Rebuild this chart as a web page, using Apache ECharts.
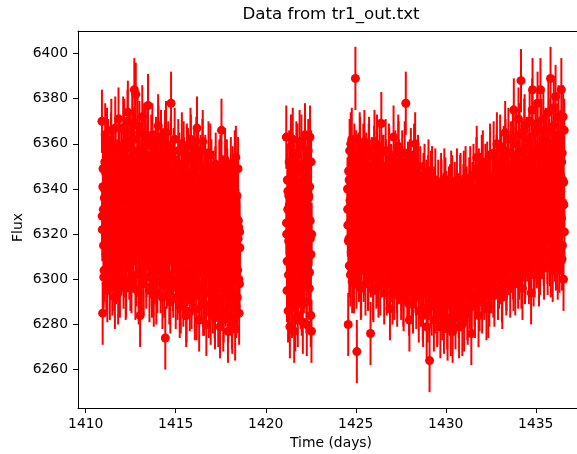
<!DOCTYPE html>
<html>
<head>
<meta charset="utf-8">
<title>Data from tr1_out.txt</title>
<script src="https://cdn.jsdelivr.net/npm/echarts@6/dist/echarts.min.js"></script>
<style>
html, body { margin: 0; padding: 0; background: #fff; overflow: hidden; }
#chart { width: 577px; height: 454px; }
</style>
</head>
<body>
<div id="chart"></div>
<script>
// light curve (time in days, flux), three observing stretches,
// each one kept as three interleaved sets of cadences (a, b, c)

var time1a = [
1410.90,1410.94,1410.98,1411.02,1411.06,1411.10,1411.14,1411.18,1411.22,1411.26,1411.30,1411.34,1411.38,1411.42,1411.46,1411.50,1411.54,1411.58,1411.62,1411.66,1411.70,1411.74,1411.78,1411.82,1411.86,1411.90,1411.94,1411.98,
1412.02,1412.06,1412.10,1412.14,1412.18,1412.22,1412.26,1412.30,1412.34,1412.38,1412.42,1412.46,1412.50,1412.54,1412.58,1412.62,1412.66,1412.70,1412.74,1412.78,1412.82,1412.86,1412.90,1412.94,1412.98,1413.02,1413.06,1413.10,1413.14,1413.18,1413.22,1413.26,1413.30,1413.34,1413.38,1413.42,1413.46,
1413.50,1413.54,1413.58,1413.62,1413.66,1413.70,1413.74,1413.78,1413.82,1413.86,1413.90,1413.94,1413.98,1414.02,1414.06,1414.10,1414.14,1414.18,1414.22,1414.26,1414.30,1414.34,1414.38,1414.42,1414.46,1414.50,1414.54,1414.58,1414.62,1414.66,1414.70,1414.74,1414.78,1414.82,1414.86,1414.90,1414.94,1414.98,1415.02,
1415.06,1415.10,1415.14,1415.18,1415.22,1415.26,1415.30,1415.34,1415.38,1415.42,1415.46,1415.50,1415.54,1415.58,1415.62,1415.66,1415.70,1415.74,1415.78,1415.82,1415.86,1415.90,1415.94,1415.98,1416.02,1416.06,1416.10,1416.14,1416.18,1416.22,1416.26,1416.30,1416.34,1416.38,1416.42,1416.46,1416.50,1416.54,1416.58,1416.62,1416.66,1416.70,1416.74,1416.78,1416.82,1416.86,1416.90,1416.94,1416.98,
1417.02,1417.06,1417.10,1417.14,1417.18,1417.22,1417.26,1417.30,1417.34,1417.38,1417.42,1417.46,1417.50,1417.54,1417.58,1417.62,1417.66,1417.70,1417.74,1417.78,1417.82,1417.86,1417.90,1417.94,1417.98,1418.02,1418.06,1418.10,1418.14,1418.18,1418.22,1418.26,1418.30,1418.34,1418.38,1418.42,1418.46,1418.50,1418.54
];
var flux1a = [
6370,6285,6331,6304,6352,6318,6298,6362,6326,6309,6345,6296,6337,6366,6314,6300,6350,6322,6292,6358,6335,6306,6344,6371,6316,6297,6329,6355,
6310,6348,6301,6366,6327,6296,6354,6319,6374,6340,6305,6361,6331,6299,6369,6315,6346,6384,6323,6382,6302,6357,6336,6294,6365,6284,6343,6312,6372,6329,6298,6352,6320,6362,6306,6339,6377,
6316,6295,6350,6331,6302,6364,6322,6293,6345,6311,6358,6334,6299,6368,6318,6340,6306,6361,6327,6292,6353,6313,6336,6274,6365,6301,6325,6356,6309,6343,6290,6378,6320,6348,6297,6333,6362,6314,6304,
6341,6296,6357,6318,6288,6336,6308,6360,6326,6293,6349,6314,6332,6284,6355,6302,6340,6321,6291,6362,6311,6345,6298,6329,6352,6287,6317,6358,6367,6305,6337,6282,6324,6350,6295,6313,6361,6333,6289,6346,6309,6280,6339,6320,6356,6301,6328,6285,6348,
6312,6290,6343,6322,6283,6351,6305,6334,6296,6317,6348,6279,6328,6366,6300,6339,6286,6314,6353,6293,6325,6344,6277,6308,6336,6289,6349,6319,6281,6341,6303,6330,6278,6354,6311,6292,6349,6323,6298
];
var time1b = [
1410.92,1410.96,1411.00,1411.04,1411.08,1411.12,1411.16,1411.20,1411.24,1411.28,1411.32,1411.36,1411.40,1411.44,1411.48,1411.52,1411.56,1411.60,1411.64,1411.68,1411.72,1411.76,1411.80,1411.84,1411.88,1411.92,1411.96,1412.00,
1412.04,1412.08,1412.12,1412.16,1412.20,1412.24,1412.28,1412.32,1412.36,1412.40,1412.44,1412.48,1412.52,1412.56,1412.60,1412.64,1412.68,1412.72,1412.76,1412.80,1412.84,1412.88,1412.92,1412.96,1413.00,1413.04,1413.08,1413.12,1413.16,1413.20,1413.24,1413.28,1413.32,1413.36,1413.40,1413.44,1413.48,
1413.52,1413.56,1413.60,1413.64,1413.68,1413.72,1413.76,1413.80,1413.84,1413.88,1413.92,1413.96,1414.00,1414.04,1414.08,1414.12,1414.16,1414.20,1414.24,1414.28,1414.32,1414.36,1414.40,1414.44,1414.48,1414.52,1414.56,1414.60,1414.64,1414.68,1414.72,1414.76,1414.80,1414.84,1414.88,1414.92,1414.96,1415.00,1415.04,
1415.08,1415.12,1415.16,1415.20,1415.24,1415.28,1415.32,1415.36,1415.40,1415.44,1415.48,1415.52,1415.56,1415.60,1415.64,1415.68,1415.72,1415.76,1415.80,1415.84,1415.88,1415.92,1415.96,1416.00,1416.04,1416.08,1416.12,1416.16,1416.20,1416.24,1416.28,1416.32,1416.36,1416.40,1416.44,1416.48,1416.52,1416.56,1416.60,1416.64,1416.68,1416.72,1416.76,1416.80,1416.84,1416.88,1416.92,1416.96,1417.00,
1417.04,1417.08,1417.12,1417.16,1417.20,1417.24,1417.28,1417.32,1417.36,1417.40,1417.44,1417.48,1417.52,1417.56,1417.60,1417.64,1417.68,1417.72,1417.76,1417.80,1417.84,1417.88,1417.92,1417.96,1418.00,1418.04,1418.08,1418.12,1418.16,1418.20,1418.24,1418.28,1418.32,1418.36,1418.40,1418.44,1418.48,1418.52,1418.56
];
var flux1b = [
6322,6349,6301,6340,6364,6311,6333,6295,6357,6319,6342,6305,6360,6327,6298,6352,6313,6338,6367,6303,6324,6347,6294,6336,6359,6308,6341,6315,
6338,6367,6306,6325,6351,6297,6344,6370,6314,6330,6358,6300,6321,6349,6335,6308,6362,6326,6296,6343,6317,6368,6333,6303,6347,6322,6356,6299,6338,6311,6364,6327,6345,6301,6318,6355,6332,
6341,6307,6326,6359,6297,6338,6315,6352,6303,6330,6294,6347,6320,6363,6308,6335,6299,6355,6316,6343,6328,6297,6361,6310,6339,6302,6349,6321,6294,6337,6358,6312,6330,6300,6353,6317,6344,6292,6334,
6312,6334,6299,6351,6323,6290,6343,6307,6330,6356,6296,6318,6347,6286,6328,6353,6304,6335,6313,6359,6292,6326,6341,6300,6320,6349,6309,6287,6337,6354,6316,6297,6345,6325,6303,6357,6289,6331,6314,6350,6294,6323,6342,6306,6288,6334,6355,6312,6298,
6331,6302,6321,6288,6345,6313,6297,6337,6284,6326,6308,6350,6292,6319,6341,6282,6333,6305,6323,6296,6348,6312,6286,6339,6318,6300,6327,6283,6345,6310,6294,6352,6320,6288,6337,6304,6326,6285,6314
];
var time1c = [
1410.91,1410.95,1410.99,1411.03,1411.07,1411.11,1411.15,1411.19,1411.23,1411.27,1411.31,1411.35,1411.39,1411.43,1411.47,1411.51,1411.55,1411.59,1411.63,1411.67,1411.71,1411.75,1411.79,1411.83,1411.87,1411.91,1411.95,1411.99,
1412.03,1412.07,1412.11,1412.15,1412.19,1412.23,1412.27,1412.31,1412.35,1412.39,1412.43,1412.47,1412.51,1412.55,1412.59,1412.63,1412.67,1412.71,1412.75,1412.79,1412.83,1412.87,1412.91,1412.95,1412.99,1413.03,1413.07,1413.11,1413.15,1413.19,1413.23,1413.27,1413.31,1413.35,1413.39,1413.43,1413.47,
1413.51,1413.55,1413.59,1413.63,1413.67,1413.71,1413.75,1413.79,1413.83,1413.87,1413.91,1413.95,1413.99,1414.03,1414.07,1414.11,1414.15,1414.19,1414.23,1414.27,1414.31,1414.35,1414.39,1414.43,1414.47,1414.51,1414.55,1414.59,1414.63,1414.67,1414.71,1414.75,1414.79,1414.83,1414.87,1414.91,1414.95,1414.99,1415.03,
1415.07,1415.11,1415.15,1415.19,1415.23,1415.27,1415.31,1415.35,1415.39,1415.43,1415.47,1415.51,1415.55,1415.59,1415.63,1415.67,1415.71,1415.75,1415.79,1415.83,1415.87,1415.91,1415.95,1415.99,1416.03,1416.07,1416.11,1416.15,1416.19,1416.23,1416.27,1416.31,1416.35,1416.39,1416.43,1416.47,1416.51,1416.55,1416.59,1416.63,1416.67,1416.71,1416.75,1416.79,1416.83,1416.87,1416.91,1416.95,1416.99,
1417.03,1417.07,1417.11,1417.15,1417.19,1417.23,1417.27,1417.31,1417.35,1417.39,1417.43,1417.47,1417.51,1417.55,1417.59,1417.63,1417.67,1417.71,1417.75,1417.79,1417.83,1417.87,1417.91,1417.95,1417.99,1418.03,1418.07,1418.11,1418.15,1418.19,1418.23,1418.27,1418.31,1418.35,1418.39,1418.43,1418.47,1418.51,1418.55
];
var flux1c = [
6328,6341,6315,6336,6322,6347,6311,6333,6319,6344,6326,6309,6338,6350,6317,6331,6324,6345,6313,6335,6321,6348,6316,6339,6327,6312,6343,6330,
6337,6318,6349,6326,6342,6314,6334,6351,6321,6340,6313,6345,6329,6353,6317,6336,6324,6347,6331,6315,6343,6327,6350,6320,6338,6312,6344,6330,6352,6323,6341,6316,6335,6348,6325,6339,6319,
6324,6339,6312,6345,6330,6317,6348,6322,6336,6309,6341,6327,6315,6346,6333,6319,6338,6310,6343,6326,6349,6314,6332,6321,6344,6311,6337,6328,6316,6347,6323,6335,6308,6340,6329,6318,6342,6325,6334,
6318,6334,6305,6340,6321,6311,6337,6326,6302,6343,6315,6329,6308,6338,6323,6313,6341,6319,6304,6332,6325,6310,6344,6316,6330,6307,6336,6320,6312,6339,6327,6303,6333,6317,6342,6314,6328,6306,6335,6322,6309,6340,6318,6331,6304,6326,6337,6313,6329,
6314,6329,6302,6335,6320,6308,6338,6317,6297,6331,6311,6325,6300,6336,6319,6306,6333,6315,6298,6327,6322,6304,6337,6312,6328,6299,6334,6316,6309,6330,6301,6323,6313,6336,6305,6326,6318,6300,6321
];

var time2a = [
1421.14,1421.18,1421.22,1421.26,1421.30,1421.34,1421.38,1421.42,1421.46,1421.50,1421.54,1421.58,1421.62,1421.66,1421.70,1421.74,1421.78,1421.82,
1421.86,1421.90,1421.94,1421.98,1422.02,1422.06,1422.10,1422.14,1422.18,1422.22,1422.26,1422.30,1422.34,1422.38,1422.42,1422.46,1422.50,1422.54
];
var flux2a = [
6363,6295,6331,6302,6352,6279,6318,6345,6288,6362,6310,6277,6338,6297,6356,6323,6284,6348,
6306,6330,6292,6359,6315,6281,6342,6301,6364,6326,6290,6350,6312,6336,6296,6363,6284,6277
];
var time2b = [
1421.16,1421.20,1421.24,1421.28,1421.32,1421.36,1421.40,1421.44,1421.48,1421.52,1421.56,1421.60,1421.64,1421.68,1421.72,1421.76,1421.80,1421.84,
1421.88,1421.92,1421.96,1422.00,1422.04,1422.08,1422.12,1422.16,1422.20,1422.24,1422.28,1422.32,1422.36,1422.40,1422.44,1422.48,1422.52
];
var flux2b = [
6320,6344,6286,6337,6308,6326,6359,6293,6331,6300,6347,6317,6282,6340,6312,6355,6296,6327,
6361,6305,6336,6289,6322,6351,6299,6333,6313,6345,6280,6325,6357,6303,6341,6318,6352
];
var time2c = [
1421.15,1421.19,1421.23,1421.27,1421.31,1421.35,1421.39,1421.43,1421.47,1421.51,1421.55,1421.59,1421.63,1421.67,1421.71,1421.75,1421.79,1421.83,
1421.87,1421.91,1421.95,1421.99,1422.03,1422.07,1422.11,1422.15,1422.19,1422.23,1422.27,1422.31,1422.35,1422.39,1422.43,1422.47,1422.51,1422.55
];
var flux2c = [
6325,6308,6339,6317,6333,6301,6344,6320,6312,6336,6304,6329,6341,6315,6298,6332,6323,6343,
6310,6327,6305,6338,6318,6300,6334,6314,6342,6322,6307,6331,6319,6337,6303,6326,6311,6320
];

var time3a = [
1424.54,1424.58,1424.62,1424.66,1424.70,1424.74,1424.78,1424.82,1424.86,1424.90,1424.94,1424.98,1425.02,1425.06,1425.10,1425.14,1425.18,1425.22,1425.26,1425.30,1425.34,1425.38,1425.42,1425.46,1425.50,
1425.54,1425.58,1425.62,1425.66,1425.70,1425.74,1425.78,1425.82,1425.86,1425.90,1425.94,1425.98,1426.02,1426.06,1426.10,1426.14,1426.18,1426.22,1426.26,1426.30,1426.34,1426.38,1426.42,1426.46,1426.50,
1426.54,1426.58,1426.62,1426.66,1426.70,1426.74,1426.78,1426.82,1426.86,1426.90,1426.94,1426.98,1427.02,1427.06,1427.10,1427.14,1427.18,1427.22,1427.26,1427.30,1427.34,1427.38,1427.42,1427.46,1427.50,
1427.54,1427.58,1427.62,1427.66,1427.70,1427.74,1427.78,1427.82,1427.86,1427.90,1427.94,1427.98,1428.02,1428.06,1428.10,1428.14,1428.18,1428.22,1428.26,1428.30,1428.34,1428.38,1428.42,1428.46,1428.50,
1428.54,1428.58,1428.62,1428.66,1428.70,1428.74,1428.78,1428.82,1428.86,1428.90,1428.94,1428.98,1429.02,1429.06,1429.10,1429.14,1429.18,1429.22,1429.26,1429.30,1429.34,1429.38,1429.42,1429.46,1429.50,
1429.54,1429.58,1429.62,1429.66,1429.70,1429.74,1429.78,1429.82,1429.86,1429.90,1429.94,1429.98,1430.02,1430.06,1430.10,1430.14,1430.18,1430.22,1430.26,1430.30,1430.34,1430.38,1430.42,1430.46,1430.50,
1430.54,1430.58,1430.62,1430.66,1430.70,1430.74,1430.78,1430.82,1430.86,1430.90,1430.94,1430.98,1431.02,1431.06,1431.10,1431.14,1431.18,1431.22,1431.26,1431.30,1431.34,1431.38,1431.42,1431.46,1431.50,
1431.54,1431.58,1431.62,1431.66,1431.70,1431.74,1431.78,1431.82,1431.86,1431.90,1431.94,1431.98,1432.02,1432.06,1432.10,1432.14,1432.18,1432.22,1432.26,1432.30,1432.34,1432.38,1432.42,1432.46,1432.50,
1432.54,1432.58,1432.62,1432.66,1432.70,1432.74,1432.78,1432.82,1432.86,1432.90,1432.94,1432.98,1433.02,1433.06,1433.10,1433.14,1433.18,1433.22,1433.26,1433.30,1433.34,1433.38,1433.42,1433.46,1433.50,
1433.54,1433.58,1433.62,1433.66,1433.70,1433.74,1433.78,1433.82,1433.86,1433.90,1433.94,1433.98,1434.02,1434.06,1434.10,1434.14,1434.18,1434.22,1434.26,1434.30,1434.34,1434.38,1434.42,1434.46,1434.50,
1434.54,1434.58,1434.62,1434.66,1434.70,1434.74,1434.78,1434.82,1434.86,1434.90,1434.94,1434.98,1435.02,1435.06,1435.10,1435.14,1435.18,1435.22,1435.26,1435.30,1435.34,1435.38,1435.42,1435.46,1435.50,
1435.54,1435.58,1435.62,1435.66,1435.70,1435.74,1435.78,1435.82,1435.86,1435.90,1435.94,1435.98,1436.02,1436.06,1436.10,1436.14,1436.18,1436.22,1436.26,1436.30,1436.34,1436.38,1436.42,1436.46,1436.50,1436.54,1436.58
];
var flux3a = [
6340,6280,6318,6357,6302,6333,6362,6311,6346,6299,6326,6389,6352,6268,6315,6341,6304,6360,6329,6297,6348,6320,6355,6307,6337,
6298,6351,6316,6339,6303,6358,6325,6276,6344,6309,6332,6295,6354,6319,6341,6301,6359,6328,6297,6347,6313,6336,6369,6306,6323,
6350,6294,6331,6357,6310,6340,6299,6322,6353,6287,6317,6345,6304,6334,6363,6296,6326,6349,6312,6293,6338,6356,6307,6320,6344,
6300,6352,6316,6291,6337,6309,6378,6325,6295,6347,6313,6282,6339,6353,6304,6327,6290,6344,6318,6360,6298,6332,6308,6350,6286,
6323,6345,6293,6311,6338,6284,6320,6346,6302,6330,6279,6315,6341,6296,6264,6326,6343,6289,6308,6335,6282,6318,6344,6299,6327,
6285,6339,6306,6322,6279,6342,6298,6316,6333,6281,6311,6340,6292,6325,6278,6304,6336,6289,6318,6343,6295,6277,6329,6309,6338,
6283,6320,6344,6300,6331,6279,6313,6342,6291,6324,6305,6337,6282,6316,6345,6296,6328,6285,6308,6340,6292,6320,6276,6334,6302,
6346,6311,6288,6327,6349,6298,6336,6284,6319,6342,6304,6330,6290,6352,6315,6296,6339,6322,6287,6347,6308,6333,6293,6355,6317,
6299,6341,6320,6356,6293,6331,6309,6350,6326,6296,6345,6314,6359,6303,6336,6292,6323,6354,6311,6365,6340,6300,6328,6349,6307,
6338,6297,6356,6319,6343,6305,6375,6327,6298,6360,6314,6346,6301,6333,6364,6310,6388,6340,6296,6352,6322,6368,6306,6337,6358,
6316,6349,6303,6370,6331,6294,6357,6384,6320,6343,6306,6365,6335,6310,6378,6347,6302,6326,6384,6355,6314,6340,6371,6305,6329,
6362,6318,6345,6307,6374,6334,6311,6389,6352,6322,6304,6368,6340,6313,6381,6327,6349,6305,6372,6336,6316,6358,6384,6309,6344,6300,6366
];
var time3b = [
1424.56,1424.60,1424.64,1424.68,1424.72,1424.76,1424.80,1424.84,1424.88,1424.92,1424.96,1425.00,1425.04,1425.08,1425.12,1425.16,1425.20,1425.24,1425.28,1425.32,1425.36,1425.40,1425.44,1425.48,1425.52,
1425.56,1425.60,1425.64,1425.68,1425.72,1425.76,1425.80,1425.84,1425.88,1425.92,1425.96,1426.00,1426.04,1426.08,1426.12,1426.16,1426.20,1426.24,1426.28,1426.32,1426.36,1426.40,1426.44,1426.48,1426.52,
1426.56,1426.60,1426.64,1426.68,1426.72,1426.76,1426.80,1426.84,1426.88,1426.92,1426.96,1427.00,1427.04,1427.08,1427.12,1427.16,1427.20,1427.24,1427.28,1427.32,1427.36,1427.40,1427.44,1427.48,1427.52,
1427.56,1427.60,1427.64,1427.68,1427.72,1427.76,1427.80,1427.84,1427.88,1427.92,1427.96,1428.00,1428.04,1428.08,1428.12,1428.16,1428.20,1428.24,1428.28,1428.32,1428.36,1428.40,1428.44,1428.48,1428.52,
1428.56,1428.60,1428.64,1428.68,1428.72,1428.76,1428.80,1428.84,1428.88,1428.92,1428.96,1429.00,1429.04,1429.08,1429.12,1429.16,1429.20,1429.24,1429.28,1429.32,1429.36,1429.40,1429.44,1429.48,1429.52,
1429.56,1429.60,1429.64,1429.68,1429.72,1429.76,1429.80,1429.84,1429.88,1429.92,1429.96,1430.00,1430.04,1430.08,1430.12,1430.16,1430.20,1430.24,1430.28,1430.32,1430.36,1430.40,1430.44,1430.48,1430.52,
1430.56,1430.60,1430.64,1430.68,1430.72,1430.76,1430.80,1430.84,1430.88,1430.92,1430.96,1431.00,1431.04,1431.08,1431.12,1431.16,1431.20,1431.24,1431.28,1431.32,1431.36,1431.40,1431.44,1431.48,1431.52,
1431.56,1431.60,1431.64,1431.68,1431.72,1431.76,1431.80,1431.84,1431.88,1431.92,1431.96,1432.00,1432.04,1432.08,1432.12,1432.16,1432.20,1432.24,1432.28,1432.32,1432.36,1432.40,1432.44,1432.48,1432.52,
1432.56,1432.60,1432.64,1432.68,1432.72,1432.76,1432.80,1432.84,1432.88,1432.92,1432.96,1433.00,1433.04,1433.08,1433.12,1433.16,1433.20,1433.24,1433.28,1433.32,1433.36,1433.40,1433.44,1433.48,1433.52,
1433.56,1433.60,1433.64,1433.68,1433.72,1433.76,1433.80,1433.84,1433.88,1433.92,1433.96,1434.00,1434.04,1434.08,1434.12,1434.16,1434.20,1434.24,1434.28,1434.32,1434.36,1434.40,1434.44,1434.48,1434.52,
1434.56,1434.60,1434.64,1434.68,1434.72,1434.76,1434.80,1434.84,1434.88,1434.92,1434.96,1435.00,1435.04,1435.08,1435.12,1435.16,1435.20,1435.24,1435.28,1435.32,1435.36,1435.40,1435.44,1435.48,1435.52,
1435.56,1435.60,1435.64,1435.68,1435.72,1435.76,1435.80,1435.84,1435.88,1435.92,1435.96,1436.00,1436.04,1436.08,1436.12,1436.16,1436.20,1436.24,1436.28,1436.32,1436.36,1436.40,1436.44,1436.48,1436.52,1436.56
];
var flux3b = [
6324,6348,6306,6335,6360,6315,6299,6343,6327,6355,6310,6338,6301,6321,6350,6332,6312,6358,6296,6340,6318,6346,6304,6361,6326,
6314,6343,6330,6300,6355,6322,6337,6306,6349,6318,6296,6340,6361,6310,6328,6352,6302,6334,6319,6357,6298,6345,6326,6308,6350,
6333,6305,6318,6348,6298,6339,6324,6355,6301,6329,6346,6313,6294,6343,6320,6308,6352,6335,6299,6327,6359,6303,6316,6341,6296,
6329,6345,6293,6320,6356,6311,6302,6340,6318,6333,6289,6348,6306,6324,6297,6343,6314,6355,6301,6330,6292,6346,6322,6310,6337,
6305,6296,6333,6318,6287,6342,6310,6326,6298,6339,6316,6286,6348,6304,6329,6293,6312,6345,6300,6321,6336,6290,6309,6331,6284,
6320,6294,6331,6302,6313,6339,6287,6327,6305,6344,6296,6318,6334,6283,6309,6326,6300,6337,6280,6316,6341,6303,6289,6323,6297,
6309,6335,6294,6326,6288,6318,6341,6302,6330,6280,6314,6343,6297,6322,6306,6336,6287,6311,6327,6299,6345,6315,6290,6338,6321,
6327,6293,6340,6316,6354,6305,6323,6344,6291,6332,6312,6350,6298,6338,6306,6326,6346,6301,6329,6318,6288,6343,6310,6334,6299,
6332,6315,6297,6346,6322,6305,6338,6360,6313,6342,6301,6329,6318,6351,6295,6333,6343,6306,6326,6357,6298,6337,6316,6362,6321,
6318,6350,6308,6333,6363,6300,6341,6322,6354,6311,6328,6348,6371,6305,6345,6326,6301,6357,6315,6336,6366,6303,6344,6329,6313,
6341,6325,6362,6309,6351,6336,6375,6318,6302,6356,6329,6346,6313,6369,6339,6321,6358,6307,6344,6366,6324,6352,6311,6361,6345,
6330,6356,6312,6342,6366,6325,6347,6306,6360,6337,6318,6376,6331,6351,6309,6345,6364,6323,6340,6308,6361,6328,6352,6315,6372,6333
];
var time3c = [
1424.55,1424.59,1424.63,1424.67,1424.71,1424.75,1424.79,1424.83,1424.87,1424.91,1424.95,1424.99,1425.03,1425.07,1425.11,1425.15,1425.19,1425.23,1425.27,1425.31,1425.35,1425.39,1425.43,1425.47,1425.51,
1425.55,1425.59,1425.63,1425.67,1425.71,1425.75,1425.79,1425.83,1425.87,1425.91,1425.95,1425.99,1426.03,1426.07,1426.11,1426.15,1426.19,1426.23,1426.27,1426.31,1426.35,1426.39,1426.43,1426.47,1426.51,
1426.55,1426.59,1426.63,1426.67,1426.71,1426.75,1426.79,1426.83,1426.87,1426.91,1426.95,1426.99,1427.03,1427.07,1427.11,1427.15,1427.19,1427.23,1427.27,1427.31,1427.35,1427.39,1427.43,1427.47,1427.51,
1427.55,1427.59,1427.63,1427.67,1427.71,1427.75,1427.79,1427.83,1427.87,1427.91,1427.95,1427.99,1428.03,1428.07,1428.11,1428.15,1428.19,1428.23,1428.27,1428.31,1428.35,1428.39,1428.43,1428.47,1428.51,
1428.55,1428.59,1428.63,1428.67,1428.71,1428.75,1428.79,1428.83,1428.87,1428.91,1428.95,1428.99,1429.03,1429.07,1429.11,1429.15,1429.19,1429.23,1429.27,1429.31,1429.35,1429.39,1429.43,1429.47,1429.51,
1429.55,1429.59,1429.63,1429.67,1429.71,1429.75,1429.79,1429.83,1429.87,1429.91,1429.95,1429.99,1430.03,1430.07,1430.11,1430.15,1430.19,1430.23,1430.27,1430.31,1430.35,1430.39,1430.43,1430.47,1430.51,
1430.55,1430.59,1430.63,1430.67,1430.71,1430.75,1430.79,1430.83,1430.87,1430.91,1430.95,1430.99,1431.03,1431.07,1431.11,1431.15,1431.19,1431.23,1431.27,1431.31,1431.35,1431.39,1431.43,1431.47,1431.51,
1431.55,1431.59,1431.63,1431.67,1431.71,1431.75,1431.79,1431.83,1431.87,1431.91,1431.95,1431.99,1432.03,1432.07,1432.11,1432.15,1432.19,1432.23,1432.27,1432.31,1432.35,1432.39,1432.43,1432.47,1432.51,
1432.55,1432.59,1432.63,1432.67,1432.71,1432.75,1432.79,1432.83,1432.87,1432.91,1432.95,1432.99,1433.03,1433.07,1433.11,1433.15,1433.19,1433.23,1433.27,1433.31,1433.35,1433.39,1433.43,1433.47,1433.51,
1433.55,1433.59,1433.63,1433.67,1433.71,1433.75,1433.79,1433.83,1433.87,1433.91,1433.95,1433.99,1434.03,1434.07,1434.11,1434.15,1434.19,1434.23,1434.27,1434.31,1434.35,1434.39,1434.43,1434.47,1434.51,
1434.55,1434.59,1434.63,1434.67,1434.71,1434.75,1434.79,1434.83,1434.87,1434.91,1434.95,1434.99,1435.03,1435.07,1435.11,1435.15,1435.19,1435.23,1435.27,1435.31,1435.35,1435.39,1435.43,1435.47,1435.51,
1435.55,1435.59,1435.63,1435.67,1435.71,1435.75,1435.79,1435.83,1435.87,1435.91,1435.95,1435.99,1436.03,1436.07,1436.11,1436.15,1436.19,1436.23,1436.27,1436.31,1436.35,1436.39,1436.43,1436.47,1436.51,1436.55,1436.59
];
var flux3c = [
6331,6317,6344,6325,6339,6312,6348,6322,6335,6316,6343,6328,6310,6340,6324,6351,6319,6333,6314,6346,6327,6338,6313,6342,6321,
6323,6340,6311,6334,6318,6347,6326,6308,6338,6321,6344,6315,6331,6349,6313,6336,6324,6309,6342,6320,6333,6317,6345,6328,6312,
6335,6314,6328,6343,6310,6331,6320,6346,6316,6338,6306,6327,6341,6319,6333,6309,6344,6323,6313,6337,6326,6348,6311,6330,6318,
6317,6332,6305,6339,6322,6310,6343,6314,6328,6301,6335,6319,6341,6308,6325,6337,6313,6330,6304,6340,6321,6311,6334,6316,6327,
6318,6303,6329,6310,6336,6298,6322,6307,6333,6315,6295,6327,6312,6331,6300,6320,6335,6306,6324,6313,6330,6297,6317,6326,6309,
6305,6322,6296,6314,6330,6292,6318,6309,6327,6299,6313,6325,6294,6316,6332,6303,6321,6311,6290,6324,6307,6328,6298,6315,6320,
6316,6298,6325,6307,6333,6312,6294,6322,6310,6329,6301,6318,6335,6305,6320,6296,6327,6314,6331,6303,6323,6309,6334,6300,6317,
6313,6328,6301,6336,6318,6306,6332,6322,6298,6338,6311,6325,6303,6334,6316,6329,6308,6340,6320,6305,6327,6314,6337,6309,6324,
6330,6312,6338,6321,6306,6343,6326,6315,6335,6309,6340,6323,6317,6346,6328,6311,6337,6320,6344,6314,6332,6305,6339,6325,6318,
6327,6343,6315,6336,6321,6349,6311,6333,6340,6318,6345,6326,6312,6338,6351,6323,6334,6316,6347,6329,6313,6341,6320,6352,6331,
6340,6322,6351,6330,6345,6316,6337,6355,6326,6343,6319,6348,6333,6312,6346,6328,6357,6335,6321,6349,6338,6315,6342,6353,6327,
6335,6350,6322,6344,6329,6357,6340,6318,6347,6332,6354,6326,6341,6359,6337,6323,6349,6330,6345,6316,6352,6339,6327,6356,6334,6343,6321
];

var fluxErr = 14;   // same error on every point

var xTicks = [1410, 1415, 1420, 1425, 1430, 1435];
var yTicks = [6260, 6280, 6300, 6320, 6340, 6360, 6380, 6400];

var points = [];
function addPoints(t, f) {
	for (var i = 0; i < t.length; i++) {
		points.push([t[i], f[i]]);
	}
}
addPoints(time1a, flux1a);
addPoints(time1b, flux1b);
addPoints(time1c, flux1c);
addPoints(time2a, flux2a);
addPoints(time2b, flux2b);
addPoints(time2c, flux2c);
addPoints(time3a, flux3a);
addPoints(time3b, flux3b);
addPoints(time3c, flux3c);

var red = '#ff0000';
var font = 'DejaVu Sans';
// axes are cut by the right edge of the picture, so the grid stops at the canvas edge
var xMin = 1409.57, xMax = 1437.29;

// vertical error bar for one point
function renderBar(params, api) {
	var x = api.value(0);
	var y = api.value(1);
	var top = api.coord([x, y + fluxErr]);
	var bottom = api.coord([x, y - fluxErr]);
	return {
		type: 'line',
		shape: { x1: top[0], y1: top[1], x2: bottom[0], y2: bottom[1] },
		style: { stroke: red, lineWidth: 2 }
	};
}

function plainNumber(v) {
	return String(v);
}

var axisText = { fontFamily: font, fontSize: 13.9, color: '#000' };

var option = {
	animation: false,
	backgroundColor: '#fff',
	textStyle: { fontFamily: font },
	title: {
		text: 'Data from tr1_out.txt',
		left: 331,
		top: 6.5,
		padding: 0,
		textAlign: 'center',
		textStyle: { fontFamily: font, fontSize: 16.7, fontWeight: 'normal', color: '#000' }
	},
	grid: {
		left: 78,
		top: 31,
		right: 0,
		bottom: 46,
		show: false,
		containLabel: false,
		outerBoundsMode: 'none'
	},
	xAxis: [
		{
			type: 'value',
			min: xMin,
			max: xMax,
			name: 'Time (days)',
			nameLocation: 'middle',
			nameGap: 27,
			nameTextStyle: Object.assign({ padding: [0, 0, 0, 7] }, axisText),
			splitLine: { show: false },
			axisLine: { lineStyle: { color: '#000', width: 1 } },
			axisTick: { length: 5, lineStyle: { color: '#000', width: 1 }, customValues: xTicks },
			axisLabel: Object.assign({ margin: 9, customValues: xTicks, formatter: plainNumber }, axisText)
		},
		{
			// top spine only
			type: 'value',
			position: 'top',
			min: xMin,
			max: xMax,
			splitLine: { show: false },
			axisLine: { show: true, lineStyle: { color: '#000', width: 1 } },
			axisTick: { show: false },
			axisLabel: { show: false }
		}
	],
	yAxis: {
		type: 'value',
		min: 6243,
		max: 6410,
		name: 'Flux',
		nameLocation: 'middle',
		nameGap: 53,
		nameMoveOverlap: false,
		nameTextStyle: Object.assign({ padding: [0, 16, 0, 0] }, axisText),
		splitLine: { show: false },
		axisLine: { show: true, lineStyle: { color: '#000', width: 1 } },
		axisTick: { show: true, length: 5, lineStyle: { color: '#000', width: 1 }, customValues: yTicks },
		axisLabel: Object.assign({ margin: 10, customValues: yTicks, formatter: plainNumber }, axisText)
	},
	series: [
		{
			type: 'custom',
			renderItem: renderBar,
			encode: { x: 0, y: 1 },
			data: points,
			clip: true,
			z: 2
		},
		{
			type: 'scatter',
			data: points,
			symbol: 'circle',
			symbolSize: 9,
			itemStyle: { color: red, opacity: 1 },
			z: 3
		}
	]
};

var myChart = echarts.init(document.getElementById('chart'));
myChart.setOption(option);
</script>
</body>
</html>
